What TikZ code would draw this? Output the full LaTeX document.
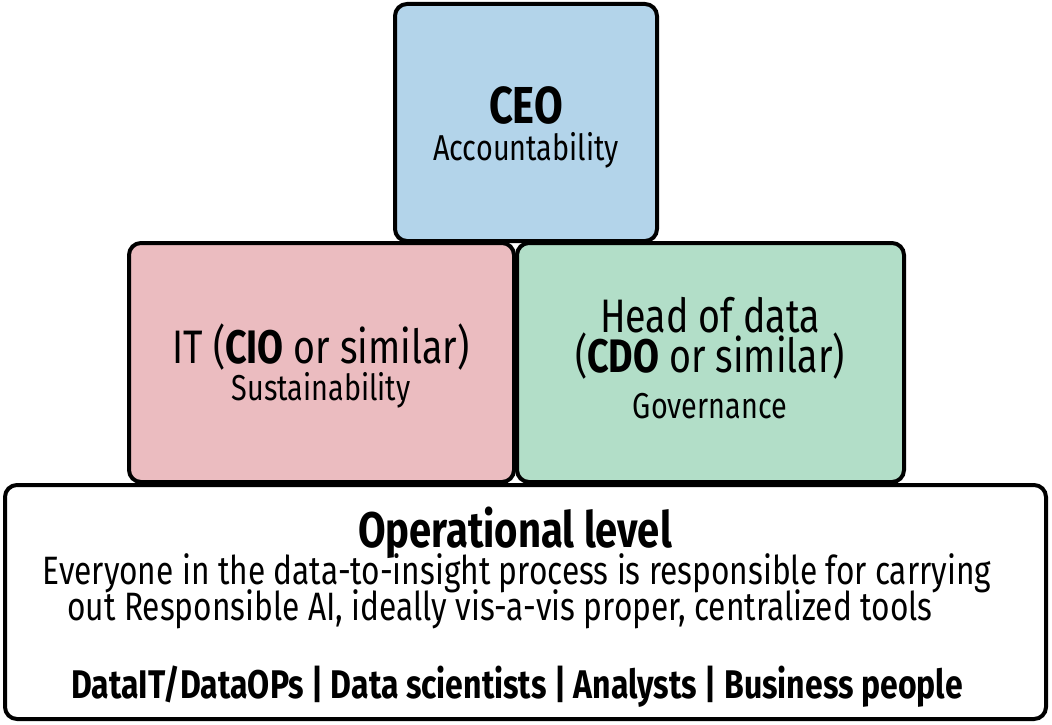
\documentclass[tikz,border=0pt]{standalone}
\usepackage{fontspec}
\setmainfont[FakeStretch=0.8]{Fira Sans}
\usetikzlibrary{positioning}

\definecolor{ceoblue}{HTML}{B3D4EA}
\definecolor{itpink}{HTML}{EBBCC0}
\definecolor{cdogreen}{HTML}{B2DEC8}

\begin{document}
\begin{tikzpicture}
[x=1pt,y=-1pt,
box/.style={draw,line width=4pt,rounded corners=12pt,inner sep=0pt},
line/.style={anchor=base,inner sep=0pt},
huge/.style={font=\fontsize{47}{50}\selectfont},
large/.style={font=\fontsize{52}{56}\selectfont\bfseries},
mid/.style={font=\fontsize{36}{40}\selectfont},
small/.style={font=\fontsize{39.6}{44}\selectfont}]

\useasboundingbox (0,0) rectangle (1052,725);

% boxes
\node [box,fill=white,minimum width=1041pt,minimum height=234pt] (ops) at (525.5,602) {};
\node [box,fill=itpink,minimum width=385pt,minimum height=239pt] (it) at (321.5,362.5) {};
\node [box,fill=cdogreen,minimum width=387pt,minimum height=239pt] (cdo) at (710.5,362.5) {};
\node [box,fill=ceoblue,minimum width=262pt,minimum height=237pt] (ceo) at (526,122.5) {};

% texts
\node [line,large] (ceo-title) at (526,123) {CEO};
\node [line,mid] (ceo-role) at (526,160) {Accountability};

\node [line,huge] (it-title) at (321,363) {IT (\textbf{CIO} or similar)};
\node [line,mid] (it-role) at (321,400) {Sustainability};

\node [line,huge] (cdo-title) at (710,332) {Head of data};
\node [line,huge] (cdo-sub) at (710,372) {(\textbf{CDO} or similar)};
\node [line,mid] (cdo-role) at (710,418) {Governance};

\node [line,large,font=\fontsize{50}{54}\selectfont\bfseries] (ops-title) at (515,547) {Operational level};
\node [line,small] (ops-text1) at (517,584) {Everyone in the data-to-insight process is responsible for carrying};
\node [line,small] (ops-text2) at (500,620) {out Responsible AI, ideally vis-a-vis proper, centralized tools};
\node [line,small,font=\fontsize{40}{44}\selectfont\bfseries] (ops-roles) at (517,698) {DataIT/DataOPs | Data scientists | Analysts | Business people};

\end{tikzpicture}
\end{document}
